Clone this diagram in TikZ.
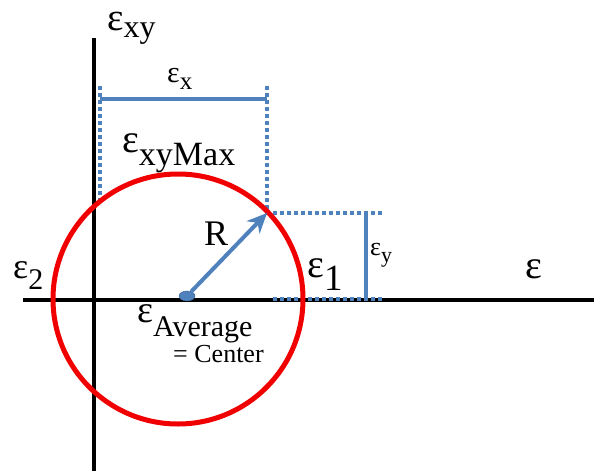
\documentclass[tikz,border=0pt]{standalone}
\usepackage{fontspec}
\setmainfont{Liberation Serif}
\usetikzlibrary{arrows.meta,shapes.geometric}
\definecolor{MohrBlue}{RGB}{79,129,189}
\definecolor{MohrRed}{RGB}{240,0,0}
% strain symbol: epsilon with a dropped subscript
\newcommand{\strainsym}[4]{{\fontsize{#1}{#1}\selectfont ε}\raisebox{-#3}{\fontsize{#2}{#2}\selectfont #4}}
\tikzset{
  mohr/axis/.style={draw=black, line width=4pt},
  mohr/ring/.style={draw=MohrRed, line width=5pt},
  mohr/guide/.style={draw=MohrBlue, line width=4pt, dash pattern=on 4pt off 3pt},
  mohr/bar/.style={draw=MohrBlue, line width=4pt},
  mohr/radius/.style={-{Stealth[length=20pt,width=18pt]}, draw=MohrBlue, line width=4pt},
  mohr/dot/.style={ellipse, draw=MohrBlue!75!black, thin, fill=MohrBlue, minimum width=16pt, minimum height=10pt, inner sep=0pt},
  mohr/label/.style={anchor=base west, inner sep=0pt, text=black, text height=18pt}
}

\begin{document}
\begin{tikzpicture}[x=1pt,y=-1pt]
  \useasboundingbox (0,0) rectangle (594,471);
  % axes
  \coordinate (ytop) at (94,38);
  \coordinate (ybot) at (94,471);
  \coordinate (xleft) at (23,300);
  \coordinate (xright) at (594,300);
  \draw[mohr/axis] (ytop) -- (ybot);
  \draw[mohr/axis] (xleft) -- (xright);
  % guides
  \coordinate (gxa) at (100,86);
  \coordinate (gxb) at (100,205);
  \coordinate (gxc) at (267,86);
  \coordinate (peak) at (267,213);
  \coordinate (gyc) at (382,213);
  \coordinate (e1a) at (273,299);
  \coordinate (e1b) at (382,299);
  \draw[mohr/guide] (gxa) -- (gxb);
  \draw[mohr/guide] (gxc) -- (peak) -- (gyc);
  \draw[mohr/guide] (e1a) -- (e1b);
  \coordinate (bxa) at (100,99);
  \coordinate (bxb) at (267,99);
  \coordinate (bya) at (366,214);
  \coordinate (byb) at (366,299);
  \draw[mohr/bar] (bxa) -- (bxb);
  \draw[mohr/bar] (bya) -- (byb);
  % circle
  \coordinate (centre) at (178,299);
  \draw[mohr/ring] (centre) circle[radius=125];
  \node[mohr/dot] (avg) at (187,296) {};
  \draw[mohr/radius] (avg) -- (peak);
  % labels
  \node[mohr/label] (lxy) at (107,30) {\strainsym{39}{32}{7pt}{xy}};
  \node[mohr/label] (lx) at (167,82) {\strainsym{30}{25}{7pt}{x}};
  \node[mohr/label] (lmax) at (122,152) {\strainsym{40}{34}{13pt}{xyMax}};
  \node[mohr/label] (lr) at (204,245) {\fontsize{36}{36}\selectfont R};
  \node[mohr/label] (lone) at (307,277) {\strainsym{40}{37}{13pt}{1}};
  \node[mohr/label] (ly) at (370,255) {\strainsym{26}{22}{7pt}{y}};
  \node[mohr/label] (ltwo) at (13,278) {\strainsym{36}{30}{11pt}{2}};
  \node[mohr/label] (leps) at (525,278) {\fontsize{40}{40}\selectfont ε};
  \node[mohr/label] (lavg) at (137,322) {\strainsym{38}{30}{14pt}{Average}};
  \node[mohr/label, text height=13pt] (lctr) at (173,362) {\fontsize{26}{26}\selectfont = Center};
\end{tikzpicture}
\end{document}
